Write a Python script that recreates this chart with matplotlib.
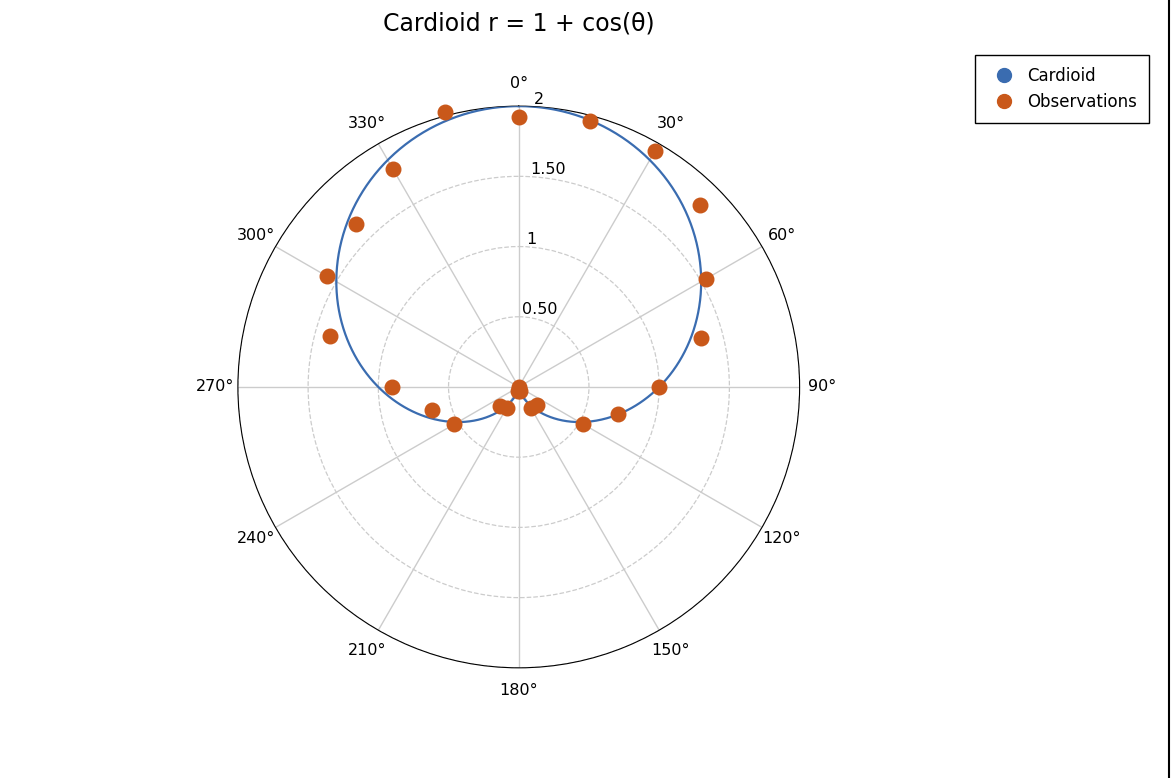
import numpy as np
import matplotlib
matplotlib.use("Agg")
import matplotlib.pyplot as plt

obs_deg = [0, 15, 30, 45, 60, 75, 90, 105, 120, 135, 150, 165, 180,
           195, 210, 225, 240, 255, 270, 285, 300, 315, 330, 345]
obs_r = [1.92, 1.96, 1.94, 1.83, 1.54, 1.34, 1.00, 0.73, 0.53, 0.18, 0.17, 0.03, 0.0,
         0.03, 0.17, 0.19, 0.53, 0.64, 0.90, 1.39, 1.58, 1.64, 1.79, 2.03]
r_ticks = [0.5, 1, 1.5, 2]
r_labels = ["0.50", "1", "1.50", "2"]

fig = plt.figure(figsize=(11.71, 7.78), dpi=100)
ax = fig.add_axes([0.203, 0.1416, 0.48, 0.722], projection="polar")
ax.set_theta_zero_location("N")
ax.set_theta_direction(-1)

th = np.linspace(0, 2 * np.pi, 721)
ax.plot(th, 1 + np.cos(th), color="#3a6cb0", lw=1.6, label="Cardioid", zorder=3)
ax.scatter(np.deg2rad(obs_deg), obs_r, s=110, color="#c9581a", zorder=4,
           label="Observations", clip_on=False)

ax.set_ylim(0, 2)
ax.set_yticks(r_ticks)
ax.set_yticklabels(r_labels, fontsize=11.5)
ax.set_rlabel_position(3)
ax.set_thetagrids(range(0, 360, 30), [f"{d}°" for d in range(0, 360, 30)], fontsize=11.5)
ax.xaxis.grid(True, color="#cccccc", ls="-", lw=1)
ax.yaxis.grid(True, color="#cccccc", ls="--", lw=0.9)
ax.spines["polar"].set_color("black")
ax.tick_params(axis="x", pad=6)

fig.suptitle("Cardioid r = 1 + cos(θ)", x=0.443, y=0.985, fontsize=17)
h, l = ax.get_legend_handles_labels()
from matplotlib.lines import Line2D
handles = [Line2D([], [], marker="o", ls="", color="#3a6cb0", ms=10),
           Line2D([], [], marker="o", ls="", color="#c9581a", ms=10)]
leg = fig.legend(handles, ["Cardioid", "Observations"], loc="upper right",
                 bbox_to_anchor=(0.988, 0.94), fontsize=12, fancybox=False,
                 edgecolor="black", framealpha=1, handletextpad=0.4, borderpad=0.7)
leg.get_frame().set_linewidth(1)
fig.add_artist(Line2D([0.9985, 0.9985], [0, 1], color="black", lw=1.5, transform=fig.transFigure))
fig.savefig("out.png", dpi=100)
